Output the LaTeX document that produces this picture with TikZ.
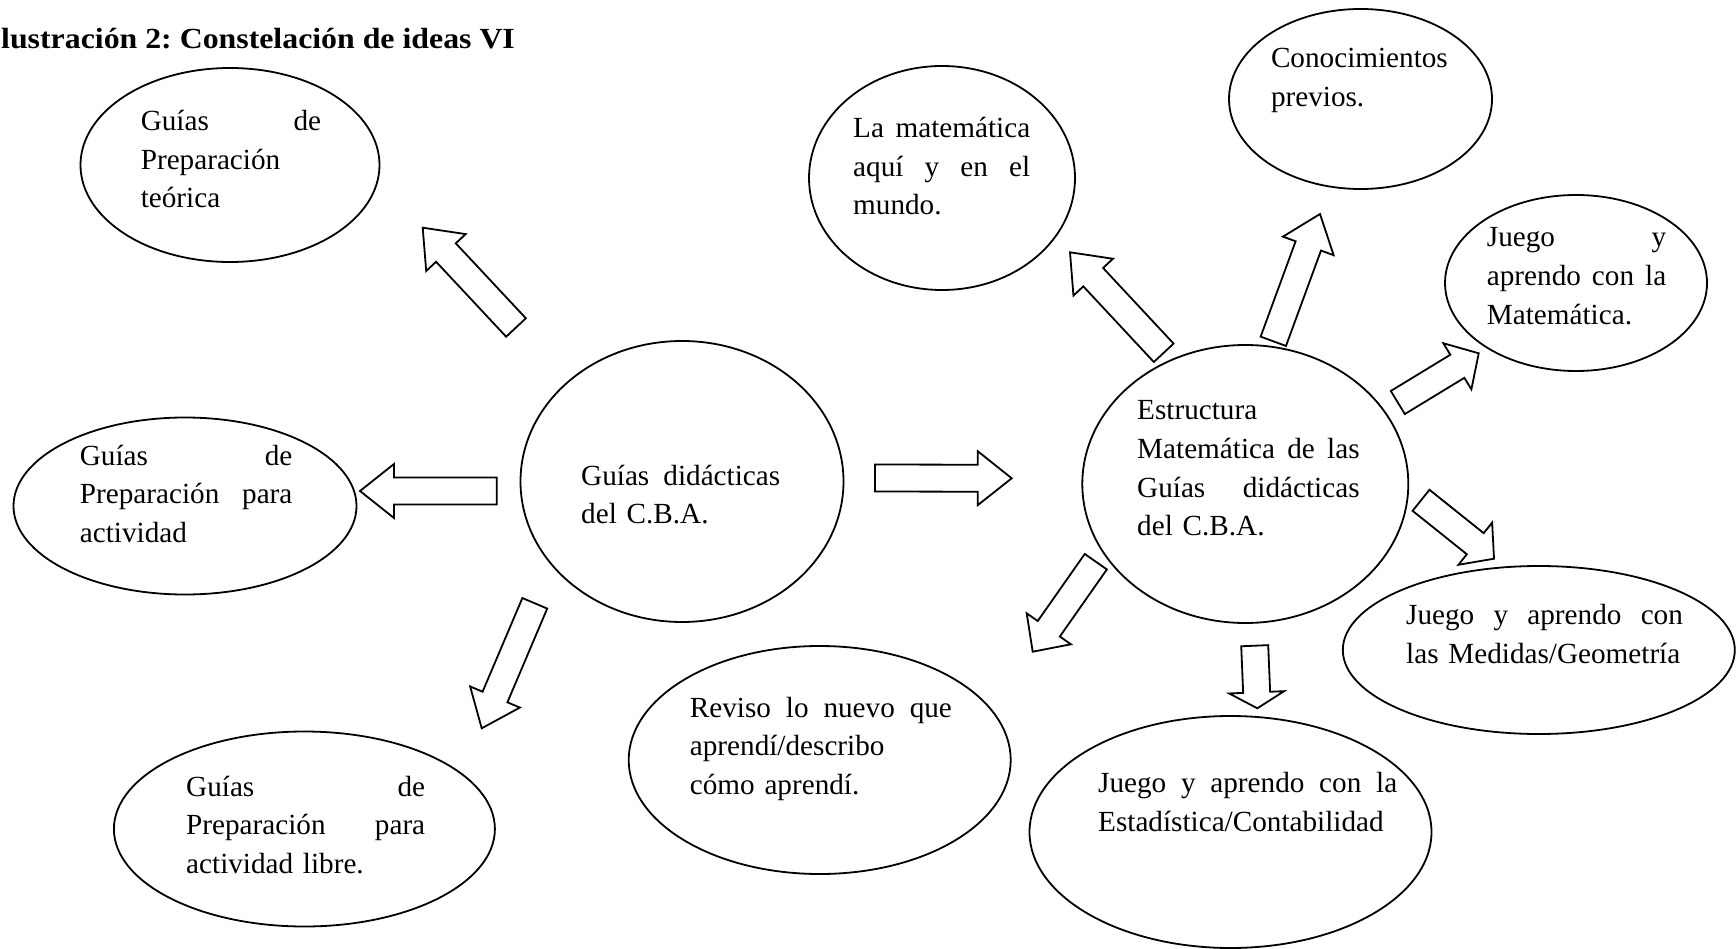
\documentclass[tikz,border=0pt]{standalone}
\usepackage{fontspec}
\setmainfont{Liberation Serif}
\usetikzlibrary{shapes.geometric,calc}
\frenchspacing
% a justified line: #1 line width (pt), #2 words separated by \hfill
\newcommand\jl[2]{\leavevmode\hbox to #1pt{#2}}
% block arrow: #1 tail, #2 tip, #3 shaft half width, #4 head half width, #5 head length
\newcommand\blockarrow[5]{%
  \coordinate (#2-b) at ($(#2)!#5pt!(#1)$);
  \draw[barrow] ($(#1)!#3pt!90:(#2)$) -- ($(#1)!#3pt!-90:(#2)$)
    -- ($(#2-b)!#3pt!-90:(#2)$) -- ($(#2-b)!#4pt!-90:(#2)$) -- (#2)
    -- ($(#2-b)!#4pt!90:(#2)$) -- ($(#2-b)!#3pt!90:(#2)$) -- cycle;}
\begin{document}
\begin{tikzpicture}[x=1pt,y=-1pt,
  ell/.style={draw,ellipse,line width=1.8pt,inner sep=0pt},
  txt/.style={anchor=base west,inner sep=0pt,align=left,text width=#1,
    font=\fontsize{29.2}{38.7}\selectfont\frenchspacing},
  barrow/.style={draw,fill=white,line width=1.8pt,line join=miter}]
\useasboundingbox[fill=white] (0,0) rectangle (1736,949);

% title
\node[anchor=base west,inner sep=0pt,font=\bfseries\fontsize{29.2}{35}\selectfont\frenchspacing]
  (title) at (1,48.5) {\scalebox{1.09}[1]{lustración 2: Constelación de ideas VI}};

% ellipses
\node[ell,minimum width=299,minimum height=194] (teo) at (230,165) {};
\node[ell,minimum width=343,minimum height=177] (act) at (185,506) {};
\node[ell,minimum width=323,minimum height=281] (cba) at (682,481.5) {};
\node[ell,minimum width=381,minimum height=195] (lib) at (304.4,829) {};
\node[ell,minimum width=382,minimum height=228] (rev) at (819.7,760) {};
\node[ell,minimum width=266,minimum height=224] (mun) at (942,178) {};
\node[ell,minimum width=263,minimum height=180] (con) at (1360.5,99) {};
\node[ell,minimum width=262,minimum height=176] (jmat) at (1576,283) {};
\node[ell,minimum width=326,minimum height=278] (est) at (1245.3,484) {};
\node[ell,minimum width=392,minimum height=168] (med) at (1538.8,650) {};
\node[ell,minimum width=402,minimum height=232] (sta) at (1230.5,832) {};

% texts
\node[txt=180.4] (teo-t) at (140.6,130.6)
  {\jl{180.4}{Guías \hfill de}\\Preparación\\teórica};
\node[txt=212.5] (act-t) at (79.7,465)
  {\jl{212.5}{Guías \hfill de}\\\jl{212.5}{Preparación \hfill para}\\actividad};
\node[txt=199] (cba-t) at (581,485)
  {\jl{199}{Guías \hfill didácticas}\\del C.B.A.};
\node[txt=239] (lib-t) at (186,796)
  {\jl{239}{Guías \hfill de}\\\jl{239}{Preparación \hfill para}\\actividad libre.};
\node[txt=262] (rev-t) at (689.7,717)
  {\jl{262}{Reviso \hfill lo \hfill nuevo \hfill que}\\aprendí/describo\\cómo aprendí.};
\node[txt=177] (mun-t) at (853,137.5)
  {\jl{177}{La \hfill matemática}\\\jl{177}{aquí \hfill y \hfill en \hfill el}\\mundo.};
\node[txt=200] (con-t) at (1270.8,67.5)
  {Conocimientos\\previos.};
\node[txt=179.3] (jmat-t) at (1486.7,246.9)
  {\jl{179.3}{Juego \hfill y}\\\jl{179.3}{aprendo \hfill con \hfill la}\\Matemática.};
\node[txt=222.4] (est-t) at (1137,419.6)
  {Estructura\\\jl{222.4}{Matemática \hfill de \hfill las}\\\jl{222.4}{Guías \hfill didácticas}\\del C.B.A.};
\node[txt=276.7] (med-t) at (1406,624.3)
  {\jl{276.7}{Juego \hfill y \hfill aprendo \hfill con}\\las Medidas/Geometría};
\node[txt=299] (sta-t) at (1098,792.6)
  {\jl{299}{Juego \hfill y \hfill aprendo \hfill con \hfill la}\\Estadística/Contabilidad};

% arrow ends
\coordinate (a1s) at (516,327.5);    \coordinate (a1e) at (422.7,227.7);
\coordinate (a2s) at (496.7,491);    \coordinate (a2e) at (360,491);
\coordinate (a3s) at (534.8,603.3);  \coordinate (a3e) at (481.7,728.3);
\coordinate (a4s) at (875,478);      \coordinate (a4e) at (1011.7,478.3);
\coordinate (a5s) at (1163.7,352.8); \coordinate (a5e) at (1070,252.3);
\coordinate (a6s) at (1273.3,341.3); \coordinate (a6e) at (1320,214);
\coordinate (a7s) at (1397.8,402.5); \coordinate (a7e) at (1478.7,353.3);
\coordinate (a8s) at (1421,500.3);   \coordinate (a8e) at (1494,558.7);
\coordinate (a9s) at (1254.7,645.7); \coordinate (a9e) at (1257.3,708.3);
\coordinate (a10s) at (1095.8,561.7); \coordinate (a10e) at (1032.7,651.7);

% block arrows
\blockarrow{a1s}{a1e}{13.5}{27}{34}
\blockarrow{a2s}{a2e}{13.5}{27}{34}
\blockarrow{a3s}{a3e}{13.5}{27}{34}
\blockarrow{a4s}{a4e}{13.5}{27}{34}
\blockarrow{a5s}{a5e}{13.5}{27}{34}
\blockarrow{a6s}{a6e}{13.5}{27}{34}
\blockarrow{a7s}{a7e}{13.5}{27}{25}
\blockarrow{a8s}{a8e}{13.5}{27}{24}
\blockarrow{a9s}{a9e}{13.5}{27.5}{16}
\blockarrow{a10s}{a10e}{13.5}{27}{28}
\end{tikzpicture}
\end{document}
